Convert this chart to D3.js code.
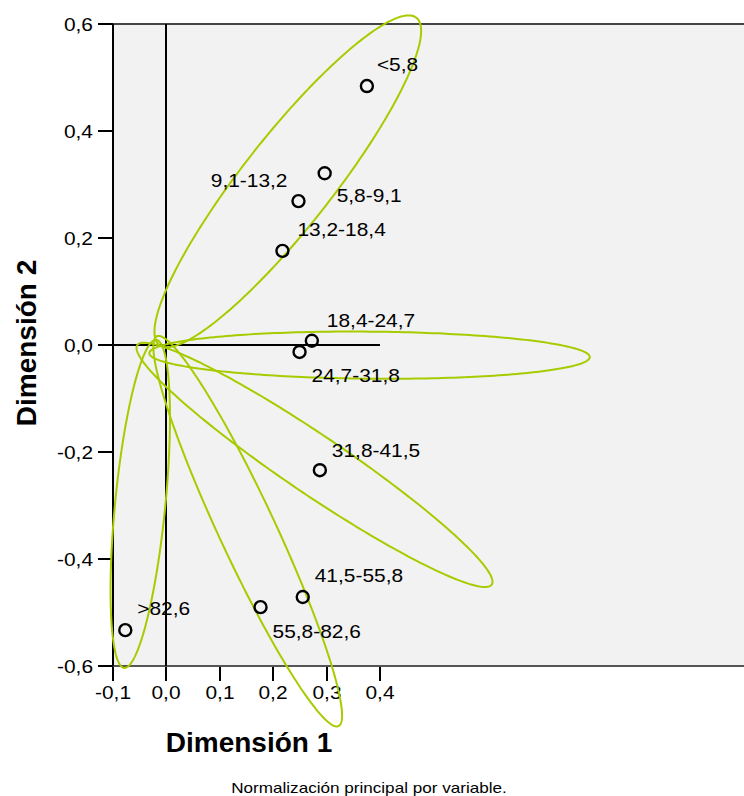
<!DOCTYPE html>
<html>
<head>
<meta charset="utf-8">
<script src="https://d3js.org/d3.v7.min.js"></script>
<style>
body { margin: 0; background: #fff; }
svg text { font-family: "Liberation Sans", Arial, sans-serif; fill: #000; }
.tick text { font-size: 19px; }
.pt-label { font-size: 19px; }
.axis-title { font-size: 28px; font-weight: bold; }
.note { font-size: 15px; }
</style>
</head>
<body>
<svg id="chart" width="744" height="796"></svg>
<script>
// category quantifications (Dimension 1, Dimension 2)
var categories = [">82,6", "55,8-82,6", "41,5-55,8", "31,8-41,5", "24,7-31,8",
                  "18,4-24,7", "13,2-18,4", "9,1-13,2", "5,8-9,1", "<5,8"];
var dim1 = [-0.077, 0.176, 0.255, 0.287, 0.249, 0.272, 0.217, 0.247, 0.296, 0.375];
var dim2 = [-0.533, -0.490, -0.471, -0.234, -0.013, 0.008, 0.176, 0.269, 0.321, 0.484];

// ellipses: centre, semi-axes (data units), rotation in degrees
var ellCx    = [0.227, 0.380, 0.277, 0.152, -0.049];
var ellCy    = [0.306, -0.019, -0.224, -0.348, -0.297];
var ellMajor = [0.389, 0.412, 0.400, 0.402, 0.308];
var ellMinor = [0.084, 0.044, 0.055, 0.053, 0.047];
var ellAngle = [51.8, -0.5, -34, -65, 84.4];

var xTicks = [-0.1, 0.0, 0.1, 0.2, 0.3, 0.4];
var yTicks = [-0.6, -0.4, -0.2, 0.0, 0.2, 0.4, 0.6];

// label placement relative to the point (px): dx, dy, anchor
var labelPos = [[12, -15, "start"], [12, 31, "start"], [12, -15, "start"], [12, -13, "start"],
                [12, 30, "start"], [15, -14, "start"], [15, -15, "start"], [-11, -14, "end"],
                [12, 29, "start"], [10, -15, "start"]];

var svg = d3.select("#chart");
var pl = 113, pr = 744, pt = 24, pb = 666;
var stretch = 1.1; // the original glyphs are a bit wider than Liberation Sans

var x = d3.scaleLinear().domain([-0.1, 1.0805]).range([pl, pr]);
var y = d3.scaleLinear().domain([-0.6, 0.6]).range([pb, pt]);

var loc = d3.formatLocale({decimal: ",", thousands: ".", grouping: [3], currency: ["", ""], minus: "-"});
var fmt = loc.format(".1f");

function widen(sel, k) {
  sel.each(function() {
    var w = this.getComputedTextLength();
    d3.select(this).attr("textLength", w * k).attr("lengthAdjust", "spacingAndGlyphs");
  });
}

// plot background
svg.append("rect")
  .attr("x", pl).attr("y", pt)
  .attr("width", pr - pl).attr("height", pb - pt)
  .attr("fill", "#f2f2f2");
svg.append("line")
  .attr("x1", pl).attr("x2", pr).attr("y1", pt).attr("y2", pt)
  .attr("stroke", "#444").attr("stroke-width", 2);

// axes
var xAxis = svg.append("g")
  .attr("transform", "translate(0," + pb + ")")
  .call(d3.axisBottom(x).tickValues(xTicks).tickFormat(fmt).tickSize(15).tickPadding(5).offset(0));
xAxis.select(".domain").remove();
xAxis.append("line").attr("x1", pl).attr("x2", pr).attr("stroke", "#555").attr("stroke-width", 2);
xAxis.selectAll(".tick line").attr("stroke", "#000").attr("stroke-width", 2);
xAxis.selectAll(".tick").attr("transform", function(d) { return "translate(" + Math.round(x(d)) + ",0)"; });
xAxis.attr("font-size", null).attr("font-family", null);
widen(xAxis.selectAll(".tick text"), stretch);

var yAxis = svg.append("g")
  .attr("transform", "translate(" + pl + ",0)")
  .call(d3.axisLeft(y).tickValues(yTicks).tickFormat(fmt).tickSize(15).tickPadding(5).offset(0));
yAxis.select(".domain").remove();
yAxis.append("line").attr("y1", pt).attr("y2", pb).attr("stroke", "#000").attr("stroke-width", 2);
yAxis.selectAll(".tick line").attr("stroke", "#000").attr("stroke-width", 2);
yAxis.selectAll(".tick").attr("transform", function(d) { return "translate(0," + Math.round(y(d)) + ")"; });
yAxis.attr("font-size", null).attr("font-family", null);
yAxis.selectAll(".tick text").attr("dy", "0.35em");
widen(yAxis.selectAll(".tick text"), stretch);

// reference lines through origin
var x0 = Math.round(x(0)), y0 = Math.round(y(0));
svg.append("line")
  .attr("x1", x0).attr("x2", x0).attr("y1", pt).attr("y2", pb)
  .attr("stroke", "#000").attr("stroke-width", 2);
svg.append("line")
  .attr("x1", pl).attr("x2", Math.round(x(0.4))).attr("y1", y0).attr("y2", y0)
  .attr("stroke", "#000").attr("stroke-width", 2);

// ellipses
var line = d3.line().curve(d3.curveLinearClosed);
ellCx.forEach(function(cx, i) {
  var a = ellAngle[i] * Math.PI / 180, pts = [];
  for (var k = 0; k < 240; k++) {
    var t = k / 240 * 2 * Math.PI;
    var u = ellMajor[i] * Math.cos(t), v = ellMinor[i] * Math.sin(t);
    pts.push([x(cx + u * Math.cos(a) - v * Math.sin(a)), y(ellCy[i] + u * Math.sin(a) + v * Math.cos(a))]);
  }
  svg.append("path").attr("d", line(pts))
    .attr("fill", "none").attr("stroke", "#a6cc00").attr("stroke-width", 2);
});

// points
svg.selectAll("circle.pt").data(categories).enter().append("circle")
  .attr("class", "pt")
  .attr("cx", function(d, i) { return x(dim1[i]); })
  .attr("cy", function(d, i) { return y(dim2[i]); })
  .attr("r", 6)
  .attr("fill", "none").attr("stroke", "#000").attr("stroke-width", 2.4);

var labels = svg.selectAll("text.pt-label").data(categories).enter().append("text")
  .attr("class", "pt-label")
  .attr("x", function(d, i) { return x(dim1[i]) + labelPos[i][0]; })
  .attr("y", function(d, i) { return y(dim2[i]) + labelPos[i][1]; })
  .attr("text-anchor", function(d, i) { return labelPos[i][2]; })
  .text(function(d) { return d; });
widen(labels, stretch);

// titles
svg.append("text").attr("class", "axis-title")
  .attr("x", 249).attr("y", 752).attr("text-anchor", "middle")
  .text("Dimensión 1");
svg.append("text").attr("class", "axis-title")
  .attr("transform", "translate(36,343) rotate(-90)").attr("text-anchor", "middle")
  .text("Dimensión 2");
var note = svg.append("text").attr("class", "note")
  .attr("x", 369).attr("y", 793).attr("text-anchor", "middle")
  .text("Normalización principal por variable.");
widen(note, 1.14);
</script>
</body>
</html>
